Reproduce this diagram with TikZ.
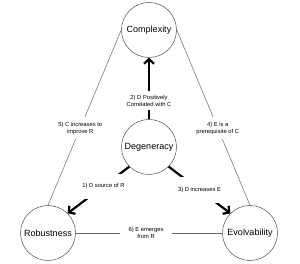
\documentclass[tikz,border=0pt]{standalone}
\usepackage{fontspec}
\setmainfont{Liberation Sans}
\usetikzlibrary{arrows.meta}

\begin{document}
\begin{tikzpicture}[x=1pt,y=1pt,
    concept/.style={circle,draw=black!70,line width=0.5pt,minimum size=55pt,inner sep=0pt,font=\fontsize{9}{10}\selectfont},
    link/.style={draw=black!60,line width=0.5pt},
    push/.style={draw=black,line width=2.2pt,-{Straight Barb[length=4.5pt,width=10pt]}},
    note/.style={fill=white,align=center,font=\fontsize{5.8}{6.8}\selectfont,inner sep=4pt}]
  \useasboundingbox (0,0) rectangle (300,264);

  % Concepts
  \node[concept] (complexity) at (149,234) {Complexity};
  \node[concept] (degeneracy) at (149,117) {Degeneracy};
  \node[concept] (robustness) at (48,31) {Robustness};
  \node[concept] (evolvability) at (250,31) {Evolvability};

  % Triangle sides
  \draw[link] (complexity.west) -- (robustness.north)
    node[note,pos=0.56,inner sep=5pt] {5) C increases to\\improve R};
  \draw[link] (complexity.east) -- (evolvability.north)
    node[note,pos=0.56,inner sep=5pt] {4) E is a\\prerequisite of C};
  \draw[link] (robustness.east) -- (evolvability.west)
    node[note,pos=0.48,inner xsep=9pt] {6) E emerges\\from R};

  % Degeneracy drives the others
  \draw[push] (degeneracy.north) -- (complexity.south)
    node[note,pos=0.3] {2) D Positively\\Correlated with C};
  \draw[push] (degeneracy.south west) -- (robustness.north east)
    node[note,pos=0.42,inner sep=10pt] {1) D source of R};
  \draw[push] (degeneracy.south east) -- (evolvability.north west)
    node[note,pos=0.5,inner sep=10pt] {3) D increases E};
\end{tikzpicture}
\end{document}
